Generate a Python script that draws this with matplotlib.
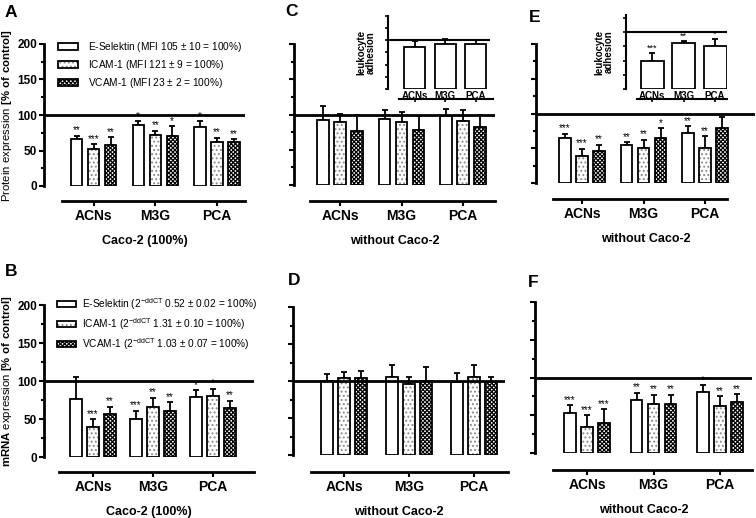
import matplotlib.pyplot as plt
import numpy as np

plt.rcParams['font.family'] = 'Liberation Sans'
plt.rcParams['mathtext.fontset'] = 'custom'
plt.rcParams['mathtext.rm'] = 'Liberation Sans'
plt.rcParams['mathtext.bf'] = 'Liberation Sans:bold'
plt.rcParams['hatch.linewidth'] = 0.9

categorias = ['ACNs', 'M3G', 'PCA']
# padrao e cor da hachura de cada molecula
hachuras = ['', '....', 'xxxxxxxx']
cor_hachura = ['k', '#8a8a8a', 'k']

# legendas
leg_proteina = ['E-Selektin (MFI 105 $\\pm$ 10 = 100%)',
                'ICAM-1 (MFI 121 $\\pm$ 9 = 100%)',
                'VCAM-1 (MFI 23 $\\pm$ 2 = 100%)']
leg_mrna = ['E-Selektin (2$^{\\mathregular{-ddCT}}$ 0.52 $\\pm$ 0.02 = 100%)',
            'ICAM-1 (2$^{\\mathregular{-ddCT}}$ 1.31 $\\pm$ 0.10 = 100%)',
            'VCAM-1 (2$^{\\mathregular{-ddCT}}$ 1.03 $\\pm$ 0.07 = 100%)']

# A - proteina, Caco-2 (E-Selektin, ICAM-1, VCAM-1)
A_media = [[66, 86, 83], [52, 72, 62], [58, 71, 62]]
A_erro = [[5, 5, 8], [7, 6, 6], [11, 13, 4]]
A_est = [['**', '*', '*'], ['***', '**', '**'], ['**', '*', '**']]

# B - mRNA, Caco-2
B_media = [[76, 50, 79], [40, 66, 80], [56, 60, 64]]
B_erro = [[29, 11, 9], [10, 12, 10], [10, 12, 10]]
B_est = [['', '***', '*'], ['***', '**', '*'], ['**', '**', '**']]

# C - proteina, sem Caco-2
C_media = [[92, 93, 98], [90, 89, 91], [76, 78, 82]]
C_erro = [[20, 14, 10], [11, 15, 16], [23, 20, 17]]

# D - mRNA, sem Caco-2
D_media = [[100, 105, 99], [104, 96, 105], [104, 100, 98]]
D_erro = [[9, 17, 12], [8, 10, 17], [9, 19, 8]]

# E - proteina, sem Caco-2
E_media = [[65, 54, 72], [39, 50, 50], [46, 65, 79]]
E_erro = [[6, 5, 10], [10, 12, 17], [9, 14, 16]]
E_est = [['***', '**', '**'], ['***', '**', '**'], ['**', '*', '']]

# F - mRNA, sem Caco-2
F_media = [[53, 70, 81], [35, 65, 62], [40, 65, 68]]
F_erro = [[10, 10, 9], [15, 12, 13], [18, 12, 10]]
F_est = [['***', '**', '*'], ['***', '**', '**'], ['***', '**', '**']]

# insets de adesao de leucocitos
Cin_media = [86, 93, 93]
Cin_erro = [13, 10, 8]
Ein_media = [50, 81, 75]
Ein_erro = [13, 3, 13]
Ein_est = ['***', '**', '*']

W, H = 756, 518
fig = plt.figure(figsize=(W / 100, H / 100), dpi=100)


def eixo(l, t, r, b):
    ax = fig.add_axes([l / W, 1 - b / H, (r - l) / W, (b - t) / H])
    ax.set_facecolor('none')
    return ax


def painel(l, t, r, b, c0, passo, xl0, xl1, desloc, medias, erros, estrelas,
           xlabel, ylabel=None):
    ax = eixo(l, t, r, b)
    px = lambda p: (p - c0) / passo
    ax.set_xlim(px(l), px(r))
    ax.set_ylim(0, 200)
    x = np.arange(3)
    larg = 11.5 / passo
    off = 17 / passo
    handles = []
    for k in range(3):
        xs = x + (k - 1) * off
        # primeiro a hachura, depois o contorno preto por cima
        h1 = ax.bar(xs, medias[k], larg, color='white', edgecolor=cor_hachura[k],
                    lw=0, hatch=hachuras[k], zorder=2)
        h2 = ax.bar(xs, medias[k], larg, color='none', edgecolor='k', lw=1.3, zorder=2.1)
        handles.append((h1[0], h2[0]))
        ax.errorbar(xs, medias[k], yerr=[np.zeros(3), erros[k]], fmt='none',
                    ecolor='k', elinewidth=1.3, capsize=2.5, capthick=1.3, zorder=1)
        if estrelas:
            for i in range(3):
                ax.annotate(estrelas[k][i], (xs[i], medias[k][i] + erros[k][i]),
                            xytext=(0, 0.3), textcoords='offset points',
                            ha='center', va='bottom', fontsize=7)
    ax.axhline(100, color='k', lw=2, zorder=3)
    for s in ['top', 'right']:
        ax.spines[s].set_visible(False)
    ax.spines['left'].set_linewidth(2)
    ax.spines['bottom'].set_linewidth(2)
    ax.spines['bottom'].set_position(('outward', desloc * 0.72))
    ax.spines['bottom'].set_bounds(px(xl0), px(xl1))
    ax.set_xticks(x, categorias, fontsize=10, fontweight='bold')
    ax.set_yticks(np.arange(0, 201, 50))
    ax.set_yticks(np.arange(0, 201, 25), minor=True)
    ax.tick_params(axis='x', length=3.6, width=1.5, pad=2.5)
    ax.tick_params(axis='y', which='major', length=3.6, width=1.5, pad=1.5)
    ax.tick_params(axis='y', which='minor', length=2.2, width=1.5)
    ax.set_xlabel(xlabel, fontsize=9, fontweight='bold', labelpad=8)
    if ylabel:
        for lab in ax.get_yticklabels():
            lab.set_fontweight('bold')
            lab.set_fontsize(8.5)
        ax.set_ylabel(ylabel, fontsize=8.2, labelpad=2)
    else:
        ax.set_yticklabels([])
    return ax, handles


def inset(l, t, r, b, c0, passo, xl0, xl1, ytopo, larg_px, medias, erros, estrelas):
    ax = eixo(l, t, r, b)
    px = lambda p: (p - c0) / passo
    ax.set_xlim(px(l), px(r))
    ax.set_ylim(0, ytopo)
    x = np.arange(3)
    ax.bar(x, medias, larg_px / passo, color='white', edgecolor='k', lw=1.3, zorder=2)
    ax.errorbar(x, medias, yerr=[np.zeros(3), erros], fmt='none', ecolor='k',
                elinewidth=1.3, capsize=2.5, capthick=1.3, zorder=1)
    if estrelas:
        for i in range(3):
            ax.annotate(estrelas[i], (x[i], medias[i] + erros[i]), xytext=(0, 0.3),
                        textcoords='offset points', ha='center', va='bottom', fontsize=6.5)
    for i in range(3):
        ax.annotate(categorias[i], (x[i], 0), xytext=(0, -1.2), textcoords='offset points',
                    ha='center', va='top', fontsize=7, fontweight='bold')
    ax.axhline(100, color='k', lw=1.5, zorder=3)
    for s in ['top', 'right']:
        ax.spines[s].set_visible(False)
    ax.spines['left'].set_linewidth(1.5)
    ax.spines['bottom'].set_linewidth(1.5)
    ax.spines['bottom'].set_position(('outward', 10 * 0.72))
    ax.spines['bottom'].set_bounds(px(xl0), px(xl1))
    ax.set_xticks(x, ['', '', ''])
    ax.set_yticks(np.arange(0, ytopo + 1, 50), [])
    ax.set_yticks(np.arange(0, ytopo + 1, 25), minor=True)
    ax.tick_params(axis='x', length=2.5, width=1.2)
    ax.tick_params(axis='y', which='both', length=2.5, width=1.2)
    ax.set_ylabel('leukocyte\nadhesion', fontsize=7, fontweight='bold',
                  linespacing=0.95, labelpad=3)
    return ax


axA, hA = painel(44, 44, 245, 186, 93.5, 61.75, 62, 245, 15, A_media, A_erro, A_est,
                 'Caco-2 (100%)',
                 ylabel='Protein expression $\\mathbf{[\\%\\ of\\ control]}$')
axB, hB = painel(44, 305, 254, 457, 93, 60, 59, 254, 15, B_media, B_erro, B_est,
                 'Caco-2 (100%)',
                 ylabel='$\\mathbf{mRNA}$ expression $\\mathbf{[\\%\\ of\\ control]}$')
painel(294, 44, 495, 185, 340, 61.5, 310, 495, 16, C_media, C_erro, None,
       'without Caco-2')
painel(293, 307, 505, 455, 344, 65, 311, 508, 17, D_media, D_erro, None,
       'without Caco-2')
painel(536, 44, 755, 183, 582, 61.5, 553, 727, 16, E_media, E_erro, E_est,
       'without Caco-2')
painel(535, 302, 752, 453, 587, 66.5, 553, 752, 17, F_media, F_erro, F_est,
       'without Caco-2')

inset(388, 16, 490, 89, 414.5, 30.5, 399, 493, 150, 21, Cin_media, Cin_erro, None)
inset(626, 15, 727, 89, 652, 31.5, 637, 727, 130, 23, Ein_media, Ein_erro, Ein_est)

# legendas dos paineis A e B
axA.legend(hA, leg_proteina, loc='upper left', bbox_to_anchor=(58 / W, 1 - 40 / H),
           bbox_transform=fig.transFigure, frameon=False, fontsize=7.3,
           handlelength=2.0, handleheight=0.6, handletextpad=1.0,
           labelspacing=0.4, borderpad=0, borderaxespad=0)
axB.legend(hB, leg_mrna, loc='upper left', bbox_to_anchor=(57 / W, 1 - 296 / H),
           bbox_transform=fig.transFigure, frameon=False, fontsize=7.3,
           handlelength=1.9, handleheight=0.6, handletextpad=0.6,
           labelspacing=0.4, borderpad=0, borderaxespad=0)

# letras dos paineis
for letra, xl, yl in [('A', 5, 5), ('B', 5, 264), ('C', 285, 4),
                      ('D', 288, 273), ('E', 529, 10), ('F', 528, 275)]:
    fig.text(xl / W, 1 - yl / H, letra, fontsize=12.5, fontweight='bold', va='top')

plt.savefig('out.png', dpi=100)
